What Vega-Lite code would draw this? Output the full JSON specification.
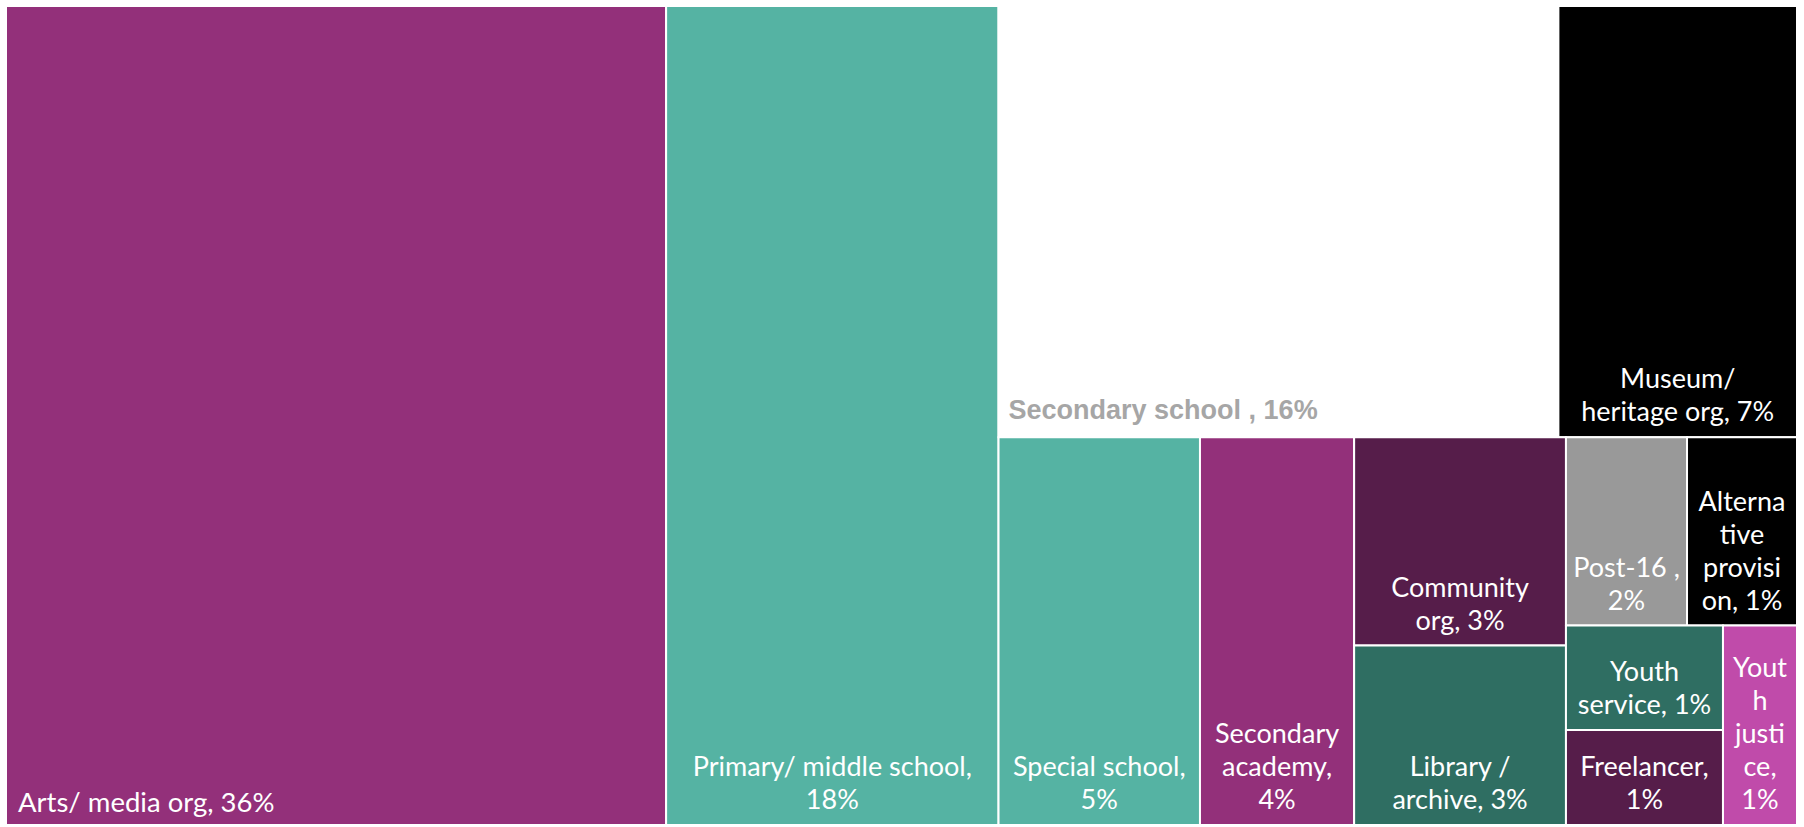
{
  "$schema": "https://vega.github.io/schema/vega-lite/v6.json",
  "width": 1791,
  "height": 819,
  "autosize": "none",
  "padding": {"left": 6, "top": 6, "right": 7, "bottom": 2},
  "background": "white",
  "config": {"view": {"stroke": null}, "font": "Lato"},
  "data": {
    "values": [
      {"name": "Arts/ media org", "label": "Arts/ media org, 36%", "share": 36.26, "p1": 1, "p2": 1, "p3": 1, "p4": 1, "p5": 1, "p6": 1},
      {"name": "Primary/ middle school", "label": "Primary/ middle school,\n18%", "share": 18.26, "p1": 2, "p2": 1, "p3": 1, "p4": 1, "p5": 1, "p6": 1},
      {"name": "Secondary school", "label": "Secondary school , 16%", "share": 16.19, "p1": 3, "p2": 1, "p3": 1, "p4": 1, "p5": 1, "p6": 1},
      {"name": "Museum/ heritage org", "label": "Museum/\nheritage org, 7%", "share": 6.90, "p1": 3, "p2": 1, "p3": 2, "p4": 1, "p5": 1, "p6": 1},
      {"name": "Special school", "label": "Special school,\n5%", "share": 5.24, "p1": 3, "p2": 2, "p3": 1, "p4": 1, "p5": 1, "p6": 1},
      {"name": "Secondary academy", "label": "Secondary\nacademy,\n4%", "share": 4.01, "p1": 3, "p2": 2, "p3": 2, "p4": 1, "p5": 1, "p6": 1},
      {"name": "Community org", "label": "Community\norg, 3%", "share": 2.96, "p1": 3, "p2": 2, "p3": 3, "p4": 1, "p5": 1, "p6": 1},
      {"name": "Library / archive", "label": "Library /\narchive, 3%", "share": 2.55, "p1": 3, "p2": 2, "p3": 3, "p4": 2, "p5": 1, "p6": 1},
      {"name": "Post-16", "label": "Post-16 ,\n2%", "share": 1.53, "p1": 3, "p2": 2, "p3": 4, "p4": 1, "p5": 1, "p6": 1},
      {"name": "Alternative provision", "label": "Alterna\ntive\nprovisi\non, 1%", "share": 1.39, "p1": 3, "p2": 2, "p3": 4, "p4": 1, "p5": 2, "p6": 1},
      {"name": "Youth service", "label": "Youth\nservice, 1%", "share": 1.10, "p1": 3, "p2": 2, "p3": 4, "p4": 2, "p5": 1, "p6": 1},
      {"name": "Freelancer", "label": "Freelancer,\n1%", "share": 1.00, "p1": 3, "p2": 2, "p3": 4, "p4": 2, "p5": 1, "p6": 2},
      {"name": "Youth justice", "label": "Yout\nh\njusti\nce,\n1%", "share": 0.99, "p1": 3, "p2": 2, "p3": 4, "p4": 2, "p5": 2, "p6": 1}
    ]
  },
  "transform": [
    {"stack": "share", "groupby": [], "sort": [{"field": "p1", "order": "ascending"}], "as": ["a1", "b1"], "offset": "normalize"},
    {"joinaggregate": [{"op": "min", "field": "a1", "as": "s1"}, {"op": "max", "field": "b1", "as": "e1"}], "groupby": ["p1"]},
    {"stack": "share", "groupby": ["p1"], "sort": [{"field": "p2", "order": "ascending"}], "as": ["a2", "b2"], "offset": "normalize"},
    {"joinaggregate": [{"op": "min", "field": "a2", "as": "s2"}, {"op": "max", "field": "b2", "as": "e2"}], "groupby": ["p1", "p2"]},
    {"stack": "share", "groupby": ["p1", "p2"], "sort": [{"field": "p3", "order": "ascending"}], "as": ["a3", "b3"], "offset": "normalize"},
    {"joinaggregate": [{"op": "min", "field": "a3", "as": "s3"}, {"op": "max", "field": "b3", "as": "e3"}], "groupby": ["p1", "p2", "p3"]},
    {"stack": "share", "groupby": ["p1", "p2", "p3"], "sort": [{"field": "p4", "order": "ascending"}], "as": ["a4", "b4"], "offset": "normalize"},
    {"joinaggregate": [{"op": "min", "field": "a4", "as": "s4"}, {"op": "max", "field": "b4", "as": "e4"}], "groupby": ["p1", "p2", "p3", "p4"]},
    {"stack": "share", "groupby": ["p1", "p2", "p3", "p4"], "sort": [{"field": "p5", "order": "ascending"}], "as": ["a5", "b5"], "offset": "normalize"},
    {"joinaggregate": [{"op": "min", "field": "a5", "as": "s5"}, {"op": "max", "field": "b5", "as": "e5"}], "groupby": ["p1", "p2", "p3", "p4", "p5"]},
    {"stack": "share", "groupby": ["p1", "p2", "p3", "p4", "p5"], "sort": [{"field": "p6", "order": "ascending"}], "as": ["a6", "b6"], "offset": "normalize"},
    {"joinaggregate": [{"op": "min", "field": "a6", "as": "s6"}, {"op": "max", "field": "b6", "as": "e6"}], "groupby": ["p1", "p2", "p3", "p4", "p5", "p6"]},
    {"calculate": "datum.s1 + datum.s3 * (datum.e1 - datum.s1)", "as": "xc"},
    {"calculate": "datum.s1 + datum.e3 * (datum.e1 - datum.s1)", "as": "xd"},
    {"calculate": "datum.xc + datum.s5 * (datum.xd - datum.xc)", "as": "x0"},
    {"calculate": "datum.xc + datum.e5 * (datum.xd - datum.xc)", "as": "x1"},
    {"calculate": "datum.s2 + datum.s4 * (datum.e2 - datum.s2)", "as": "yc"},
    {"calculate": "datum.s2 + datum.e4 * (datum.e2 - datum.s2)", "as": "yd"},
    {"calculate": "datum.yc + datum.s6 * (datum.yd - datum.yc)", "as": "y0"},
    {"calculate": "datum.yc + datum.e6 * (datum.yd - datum.yc)", "as": "y1"},
    {"calculate": "(datum.x0 + datum.x1) / 2", "as": "xm"},
    {"calculate": "reverse(split(datum.label, '\\n'))", "as": "lines"}
  ],
  "layer": [
    {
      "mark": {"type": "rect", "stroke": "white", "strokeWidth": 2},
      "encoding": {
        "x": {"field": "x0", "type": "quantitative", "scale": {"domain": [0, 1], "nice": false, "zero": false}, "axis": null},
        "x2": {"field": "x1"},
        "y": {"field": "y0", "type": "quantitative", "scale": {"domain": [0, 1], "nice": false, "zero": false, "reverse": true}, "axis": null},
        "y2": {"field": "y1"},
        "color": {
          "field": "name", "type": "nominal", "legend": null,
          "scale": {
            "domain": ["Arts/ media org", "Primary/ middle school", "Secondary school", "Museum/ heritage org", "Special school", "Secondary academy", "Community org", "Library / archive", "Post-16", "Alternative provision", "Youth service", "Freelancer", "Youth justice"],
            "range": ["#93307A", "#55B3A3", "#FFFFFF", "#000000", "#55B3A3", "#93307A", "#561D4A", "#2F6E62", "#999999", "#000000", "#2F6E62", "#561D4A", "#C04BAA"]
          }
        }
      }
    },
    {
      "transform": [{"filter": "indexof(datum.label, '\\n') >= 0"}],
      "mark": {"type": "text", "color": "white", "font": "Lato", "fontSize": 27, "align": "center", "baseline": "bottom", "lineHeight": -33, "dy": -10},
      "encoding": {
        "x": {"field": "xm", "type": "quantitative"},
        "y": {"field": "y1", "type": "quantitative"},
        "text": {"field": "lines", "type": "nominal"}
      }
    },
    {
      "transform": [{"filter": "datum.name == 'Arts/ media org'"}],
      "mark": {"type": "text", "color": "white", "font": "Lato", "fontSize": 27.5, "align": "left", "baseline": "bottom", "dx": 12, "dy": -7},
      "encoding": {
        "x": {"field": "x0", "type": "quantitative"},
        "y": {"field": "y1", "type": "quantitative"},
        "text": {"field": "label", "type": "nominal"}
      }
    },
    {
      "transform": [{"filter": "datum.name == 'Secondary school'"}],
      "mark": {"type": "text", "color": "#A6A6A6", "font": "Liberation Sans", "fontWeight": "bold", "fontSize": 27, "align": "left", "baseline": "bottom", "dx": 10, "dy": -12},
      "encoding": {
        "x": {"field": "x0", "type": "quantitative"},
        "y": {"field": "y1", "type": "quantitative"},
        "text": {"field": "label", "type": "nominal"}
      }
    }
  ]
}
